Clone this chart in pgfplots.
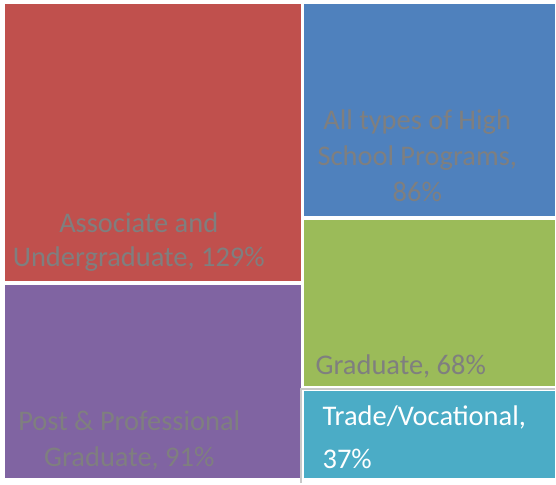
\documentclass[border=0pt]{standalone}
\usepackage{pgfplots}
\pgfplotsset{compat=1.18}
\usepackage{fontspec}
\setmainfont{Carlito}
\definecolor{cred}{HTML}{C0504D}
\definecolor{cblue}{HTML}{4F81BD}
\definecolor{cgreen}{HTML}{9BBB59}
\definecolor{cpurple}{HTML}{8064A2}
\definecolor{cteal}{HTML}{4BACC6}
\definecolor{ctext}{HTML}{7F7F7F}
\definecolor{cedge}{HTML}{C8C8C8}
\newcommand\lf{\fontsize{28.5bp}{33bp}\selectfont}
\tikzset{lbl/.style={font=\lf, inner sep=0pt}}
\begin{document}
\begin{tikzpicture}
\begin{axis}[
  width=556bp, height=484bp, scale only axis,
  xmin=0, xmax=556, ymin=0, ymax=484, y dir=reverse,
  hide axis, clip=false,
]
\path (rel axis cs:0,0) rectangle (rel axis cs:1,1);
% rectangles
\addplot[fill=cred, draw=none] coordinates {(5,4) (302,4) (302,282) (5,282)} --cycle;
\addplot[fill=cpurple, draw=none] coordinates {(5,286) (302,286) (302,479) (5,479)} --cycle;
\addplot[fill=cblue, draw=none] coordinates {(305,4) (556,4) (556,216) (305,216)} --cycle;
\addplot[fill=cgreen, draw=none] coordinates {(305,220) (556,220) (556,387) (305,387)} --cycle;
\addplot[fill=cteal, draw=none] coordinates {(305,392) (556,392) (556,479) (305,479)} --cycle;
\addplot[draw=cedge, line width=2bp] coordinates {(302,484) (302,390) (556,390)};
% labels
\node[lbl, anchor=base, text=ctext] at (axis cs:139,233) {Associate and};
\node[lbl, anchor=base, text=ctext] at (axis cs:139,267) {Undergraduate, 129\%};
\node[lbl, anchor=base, text=ctext] at (axis cs:418,130) {All types of High};
\node[lbl, anchor=base, text=ctext] at (axis cs:418,166) {School Programs,};
\node[lbl, anchor=base, text=ctext] at (axis cs:418,202) {86\%};
\node[lbl, anchor=base west, text=ctext] at (axis cs:316,375) {Graduate, 68\%};
\node[lbl, anchor=base, text=ctext] at (axis cs:129.5,431) {Post \& Professional};
\node[lbl, anchor=base, text=ctext] at (axis cs:129.5,467) {Graduate, 91\%};
\node[lbl, anchor=base west, text=white] at (axis cs:323,426) {Trade/Vocational,};
\node[lbl, anchor=base west, text=white] at (axis cs:323,469) {37\%};
\end{axis}
\end{tikzpicture}
\end{document}
